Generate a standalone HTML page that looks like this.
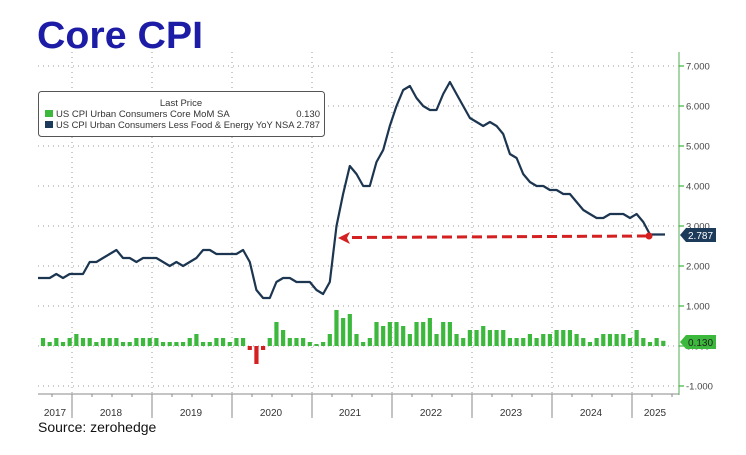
<!DOCTYPE html>
<html><head><meta charset="utf-8"><style>
html,body{margin:0;padding:0;background:#fff;}
body{width:746px;height:455px;overflow:hidden;position:relative;font-family:"Liberation Sans",sans-serif;}
</style></head><body>
<svg id="s" width="746" height="455" xmlns="http://www.w3.org/2000/svg" style="position:absolute;left:0;top:0">
<text x="37" y="48" font-family="Liberation Sans, sans-serif" font-weight="bold" font-size="38" fill="#1c1ca6" textLength="166" lengthAdjust="spacingAndGlyphs">Core CPI</text>
<g id="grid" stroke="#999" stroke-width="1" stroke-dasharray="1,4"></g>
<g id="bars"></g>
<polyline id="line" fill="none" stroke="#1c3550" stroke-width="2.2" stroke-linejoin="round"/>
<line x1="352" y1="237.5" x2="648" y2="236" stroke="#d42020" stroke-width="3" stroke-dasharray="10,5"/>
<polygon points="338,238 350,232 347,238 350,244" fill="#d42020"/>
<circle cx="649" cy="236" r="3.5" fill="#d42020"/>
<line x1="679" y1="52" x2="679" y2="395" stroke="#8cc88c" stroke-width="1.5"/>
<g id="yt" font-size="9.5" fill="#444" font-family="Liberation Sans, sans-serif"></g>
<line x1="38" y1="394" x2="679" y2="394" stroke="#888" stroke-width="1"/>
<g id="xt" stroke="#888"></g>
<g id="xl" font-size="10" fill="#333" font-family="Liberation Sans, sans-serif" text-anchor="middle"></g>
<rect x="38.5" y="91.5" width="286" height="45" rx="3" fill="#fff" stroke="#555"/>
<text x="181" y="106" font-size="9.5" fill="#333" text-anchor="middle" font-family="Liberation Sans, sans-serif">Last Price</text>
<rect x="45" y="110" width="8" height="7" fill="#3cb83c"/>
<rect x="45" y="121" width="8" height="7" fill="#1c3a5a"/>
<text x="56" y="117" font-size="9.5" fill="#333" font-family="Liberation Sans, sans-serif">US CPI Urban Consumers Core MoM SA</text>
<text x="56" y="128" font-size="9.5" fill="#333" font-family="Liberation Sans, sans-serif" textLength="264" lengthAdjust="spacingAndGlyphs">US CPI Urban Consumers Less Food &amp; Energy YoY NSA 2.787</text>
<text x="320" y="117" font-size="9.5" fill="#333" text-anchor="end" font-family="Liberation Sans, sans-serif">0.130</text>
<polygon points="680,235 686,228 716,228 716,242 686,242" fill="#1c3a5a"/>
<text x="688" y="239" font-size="10" fill="#fff" font-family="Liberation Sans, sans-serif">2.787</text>
<polygon points="680,342 686,335 716,335 716,349 686,349" fill="#3cb83c"/>
<text x="688" y="346" font-size="10" fill="#222" font-family="Liberation Sans, sans-serif">0.130</text>
<text x="38" y="432" font-size="14" fill="#111" font-family="Liberation Sans, sans-serif">Source: zerohedge</text>
</svg>
<script>
var NS="http://www.w3.org/2000/svg";
function el(p,t,a,txt){var e=document.createElementNS(NS,t);for(var k in a)e.setAttribute(k,a[k]);if(txt)e.textContent=txt;document.getElementById(p).appendChild(e);return e;}
var Y=function(v){return 346-40*v;};
for(var v=-1;v<=7;v++){el("grid","line",{x1:38,x2:679,y1:Y(v),y2:Y(v)});
 el("yt","text",{x:686,y:Y(v)+3.5},(v<0?"-":"")+Math.abs(v).toFixed(3));
 el("yt","line",{x1:679,x2:684,y1:Y(v),y2:Y(v),stroke:"#3cb83c","stroke-width":1.2});}
var yrs=[72,152,232,312,392,472,552,632];
yrs.forEach(function(x){el("grid","line",{x1:x,x2:x,y1:52,y2:394});
 el("xt","line",{x1:x,x2:x,y1:394,y2:418,"stroke-width":1});});
for(var x=52;x<679;x+=20){el("xt","line",{x1:x,x2:x,y1:394,y2:397,"stroke-width":1});}
var labs=[["2017",55],["2018",111],["2019",191],["2020",271],["2021",350],["2022",431],["2023",511],["2024",591],["2025",655]];
labs.forEach(function(l){el("xl","text",{x:l[1],y:416},l[0]);});
var yoy=[1.7,1.7,1.8,1.7,1.8, 1.8,1.8,2.1,2.1,2.2,2.3,2.4,2.2,2.2,2.1,2.2,2.2, 2.2,2.1,2.0,2.1,2.0,2.1,2.2,2.4,2.4,2.3,2.3,2.3, 2.3,2.4,2.1,1.4,1.2,1.2,1.6,1.7,1.7,1.6,1.6,1.6, 1.4,1.3,1.6,3.0,3.8,4.5,4.3,4.0,4.0,4.6,4.9,5.5, 6.0,6.4,6.5,6.2,6.0,5.9,5.9,6.3,6.6,6.3,6.0,5.7, 5.6,5.5,5.6,5.5,5.3,4.8,4.7,4.3,4.1,4.0,4.0,3.9, 3.9,3.8,3.8,3.6,3.4,3.3,3.2,3.2,3.3,3.3,3.3,3.2, 3.3,3.1,2.787];
var mom=[.2,.1,.2,.1,.2, .3,.2,.2,.1,.2,.2,.2,.1,.1,.2,.2,.2, .2,.1,.1,.1,.1,.2,.3,.1,.1,.2,.2,.1, .2,.2,-.1,-.45,-.1,.2,.6,.4,.2,.2,.2,.1, 0,.1,.3,.9,.7,.8,.3,.1,.2,.6,.5,.6, .6,.5,.3,.6,.6,.7,.3,.6,.6,.3,.2,.4, .4,.5,.4,.4,.4,.2,.2,.2,.3,.2,.3,.3, .4,.4,.4,.3,.2,.1,.2,.3,.3,.3,.3,.2, .4,.2,.1,.2,.13];
var X=function(i){return 39+i*6.67+4;};
var pts=yoy.map(function(v,i){return (i==0?38:X(i)).toFixed(1)+","+Y(v).toFixed(1);});
pts.push("665,"+Y(2.787).toFixed(1));
document.getElementById("line").setAttribute("points",pts.join(" "));
mom.forEach(function(v,i){var x=X(i)-2.1;var h=Math.max(Math.abs(v)*40,2);
 var y=v>=0?346-h:346;
 el("bars","rect",{x:x,y:y,width:4.2,height:h,fill:v<0?"#d42020":"#3cb83c"});});
</script>
</body></html>
